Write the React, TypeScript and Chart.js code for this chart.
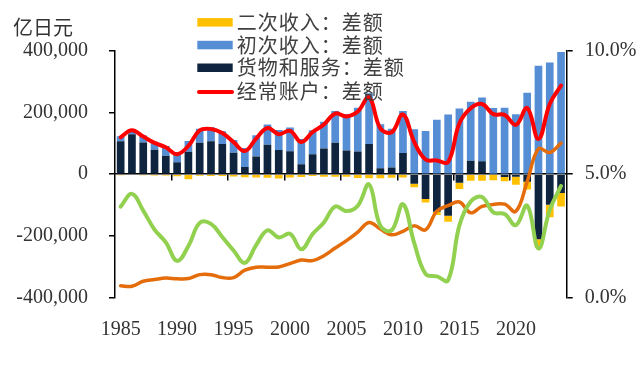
import React, { useEffect, useRef } from 'react';
import { Chart, registerables } from 'chart.js';

Chart.register(...registerables);

const years = [
  '1985', '1986', '1987', '1988', '1989', '1990', '1991', '1992', '1993', '1994',
  '1995', '1996', '1997', '1998', '1999', '2000', '2001', '2002', '2003', '2004',
  '2005', '2006', '2007', '2008', '2009', '2010', '2011', '2012', '2013', '2014',
  '2015', '2016', '2017', '2018', '2019', '2020', '2021', '2022', '2023', '2024',
];
const xLabelYears = ['1985', '1990', '1995', '2000', '2005', '2010', '2015', '2020'];

// 亿日元
const goodsServices = [
  106700, 129600, 102900, 79300, 59700, 38600, 72900, 102100, 107000, 98300,
  69500, 23200, 57700, 95300, 78700, 74300, 32100, 64700, 83600, 102000,
  76900, 73500, 98300, 18900, 21200, 68600, -31100, -80800, -122500, -135000,
  -28200, 43900, 42200, 1100, -9300, -8800, -24800, -211600, -99000, -61000,
];
const primaryIncome = [
  16100, 16000, 22500, 26300, 31800, 32900, 35000, 45100, 45300, 41300,
  41600, 61500, 68700, 66100, 65000, 76900, 82000, 78100, 86400, 103500,
  118500, 142300, 164800, 143400, 126300, 136200, 146200, 139900, 176900, 194100,
  213000, 191500, 206800, 214000, 215500, 194400, 264300, 351900, 363000, 397000,
];
const secondaryIncome = [
  -3200, -3100, -3600, -4200, -4400, -6800, -16200, -4800, -5700, -6200,
  -7300, -9800, -10700, -11500, -13900, -10600, -9600, -6000, -8700, -8500,
  -8200, -12400, -13600, -13500, -11600, -10900, -11100, -11400, -9900, -19900,
  -19700, -21500, -21300, -20000, -13700, -25700, -24800, -25700, -41000, -44000,
];
const currentAccount = [
  119700, 142400, 121900, 101500, 87100, 64700, 91800, 142300, 146700, 133400,
  103900, 74900, 115700, 150000, 129700, 140600, 104500, 136800, 161300, 196900,
  187300, 203300, 249500, 148800, 135900, 193800, 104000, 47600, 44600, 39200,
  165200, 213900, 227800, 195000, 192500, 159900, 214700, 114500, 228000, 288000,
];
// % (right axis)
const greenRatio = [
  3.68, 4.2, 3.52, 2.75, 2.23, 1.48, 2.08, 3.02, 2.98, 2.45,
  1.9, 1.4, 2.12, 2.72, 2.43, 2.58, 1.95, 2.57, 3.04, 3.69,
  3.5, 3.72, 4.58, 2.9, 2.72, 3.78, 2.2, 0.95, 0.85, 0.69,
  2.92, 3.89, 4.07, 3.45, 3.38, 2.93, 3.72, 1.98, 3.55, 4.52,
];
const orangeRatio = [
  0.47, 0.45, 0.65, 0.72, 0.78, 0.75, 0.76, 0.92, 0.92, 0.8,
  0.8, 1.1, 1.22, 1.22, 1.23, 1.37, 1.51, 1.49, 1.69, 2.0,
  2.3, 2.65, 3.04, 2.77, 2.54, 2.68, 2.9, 2.74, 3.5, 3.72,
  3.87, 3.43, 3.69, 3.77, 3.78, 3.49, 4.7, 6.03, 5.88, 6.26,
];

const leftTicks = [-400000, -200000, 0, 200000, 400000];
const rightTicks = [0, 5, 10];

const unitLabel = '亿日元';
const labelSecondary = '二次收入：差额';
const labelPrimary = '初次收入：差额';
const labelGoods = '货物和服务：差额';
const labelCurrent = '经常账户：差额';
const legendOrder = [labelSecondary, labelPrimary, labelGoods, labelCurrent];

const NUM_FONT = '"Liberation Serif", "Noto Sans CJK SC", serif';
const CJK_FONT = '"Noto Sans CJK SC", "Liberation Serif", sans-serif';
const TEXT_COLOR = '#333333';

const overlayPlugin = {
  id: 'overlay',
  afterDraw(chart: any) {
    const ctx = chart.ctx as CanvasRenderingContext2D;
    ctx.save();
    ctx.fillStyle = TEXT_COLOR;
    ctx.textBaseline = 'middle';
    ctx.textAlign = 'left';
    ctx.font = `20px ${CJK_FONT}`;
    ctx.fillText(unitLabel, 13, 27);

    const rows = [22.3, 45, 67.7, 91.5];
    ctx.font = `20px ${CJK_FONT}`;
    try { (ctx as any).letterSpacing = '1px'; } catch (e) {}
    legendOrder.forEach((lbl, i) => {
      const ds = chart.data.datasets.find((d: any) => d.label === lbl);
      if (!ds) return;
      const cy = rows[i];
      if (ds.type === 'line') {
        ctx.strokeStyle = ds.borderColor;
        ctx.lineWidth = 4;
        ctx.lineCap = 'round';
        ctx.beginPath();
        ctx.moveTo(199, cy + 0.5);
        ctx.lineTo(232, cy + 0.5);
        ctx.stroke();
      } else {
        ctx.fillStyle = ds.backgroundColor;
        ctx.fillRect(197.3, cy - 4.2, 35.4, 8.5);
      }
      ctx.fillStyle = '#404040';
      ctx.fillText(lbl, 236.7, cy);
    });
    ctx.restore();
  },
};

export default function App() {
  const ref = useRef<HTMLCanvasElement>(null);
  useEffect(() => {
    document.body.style.margin = '0';
    const tickFont = { family: NUM_FONT, size: 20 };
    const chart = new Chart(ref.current as HTMLCanvasElement, {
      type: 'bar',
      data: {
        labels: years,
        datasets: [
          {
            type: 'line',
            label: labelCurrent,
            data: currentAccount,
            yAxisID: 'y',
            stack: 'ca',
            borderColor: '#FF0000',
            backgroundColor: '#FF0000',
            borderWidth: 4,
            pointRadius: 0,
            tension: 0.4,
            fill: false,
            order: 0,
            borderCapStyle: 'round',
            borderJoinStyle: 'round',
          } as any,
          {
            type: 'line',
            label: 'greenRatio',
            data: greenRatio,
            yAxisID: 'y2',
            borderColor: '#92D050',
            backgroundColor: '#92D050',
            borderWidth: 4,
            pointRadius: 0,
            tension: 0.4,
            fill: false,
            order: 1,
            borderCapStyle: 'round',
            borderJoinStyle: 'round',
          } as any,
          {
            type: 'line',
            label: 'orangeRatio',
            data: orangeRatio,
            yAxisID: 'y2',
            borderColor: '#E46C0A',
            backgroundColor: '#E46C0A',
            borderWidth: 3.5,
            pointRadius: 0,
            tension: 0.4,
            fill: false,
            order: 2,
            borderCapStyle: 'round',
            borderJoinStyle: 'round',
          } as any,
          {
            type: 'bar',
            label: labelGoods,
            data: goodsServices,
            yAxisID: 'y',
            stack: 'bars',
            backgroundColor: '#0F243E',
            order: 3,
            barPercentage: 0.68,
            categoryPercentage: 1,
          },
          {
            type: 'bar',
            label: labelPrimary,
            data: primaryIncome,
            yAxisID: 'y',
            stack: 'bars',
            backgroundColor: '#558ED5',
            order: 4,
            barPercentage: 0.68,
            categoryPercentage: 1,
          },
          {
            type: 'bar',
            label: labelSecondary,
            data: secondaryIncome,
            yAxisID: 'y',
            stack: 'bars',
            backgroundColor: '#FFC000',
            order: 5,
            barPercentage: 0.68,
            categoryPercentage: 1,
          },
        ],
      },
      options: {
        animation: false,
        responsive: true,
        maintainAspectRatio: false,
        events: [],
        layout: { padding: { top: 51, left: 0, right: 0, bottom: 0 } },
        plugins: {
          legend: { display: false },
          title: { display: false },
          tooltip: { enabled: false },
        },
        scales: {
          x: {
            type: 'category',
            stacked: true,
            offset: true,
            position: 'bottom',
            grid: { display: false },
            border: { display: false },
            ticks: {
              autoSkip: false,
              maxRotation: 0,
              minRotation: 0,
              padding: 12,
              font: tickFont,
              color: TEXT_COLOR,
              callback: (_v: any, i: number) => (xLabelYears.includes(years[i]) ? years[i] : ''),
            },
            afterFit: (s: any) => { s.height = 385 - 297.3; },
          },
          x2: {
            type: 'category',
            position: { y: 0 },
            offset: true,
            grid: {
              drawOnChartArea: false,
              offset: true,
              tickLength: 6,
              lineWidth: 1.5,
              color: (c: any) => (c.index > 0 && c.index % 5 === 0 ? '#000000' : 'rgba(0,0,0,0)'),
            },
            border: { display: true, color: '#000000', width: 1.5 },
            ticks: { display: false, autoSkip: false },
          },
          y: {
            type: 'linear',
            position: 'left',
            stacked: true,
            min: -400000,
            max: 400000,
            afterBuildTicks: (s: any) => { s.ticks = leftTicks.map((v) => ({ value: v })); },
            ticks: {
              font: tickFont,
              color: TEXT_COLOR,
              padding: 21,
              callback: (v: any) => Number(v).toLocaleString('en-US'),
            },
            grid: { drawOnChartArea: false, tickLength: 6, color: '#000000', lineWidth: 1.5 },
            border: { display: true, color: '#000000', width: 1.5 },
            afterFit: (s: any) => { s.width = 115; },
          },
          y2: {
            type: 'linear',
            position: 'right',
            min: 0,
            max: 10,
            afterBuildTicks: (s: any) => { s.ticks = rightTicks.map((v) => ({ value: v })); },
            ticks: {
              font: tickFont,
              color: TEXT_COLOR,
              padding: 12,
              callback: (v: any) => Number(v).toFixed(1) + '%',
            },
            grid: { drawOnChartArea: false, tickLength: 6, color: '#000000', lineWidth: 1.5 },
            border: { display: true, color: '#000000', width: 1.5 },
            afterFit: (s: any) => { s.width = 640 - 566.7; },
          },
        },
      },
      plugins: [overlayPlugin],
    } as any);
    return () => chart.destroy();
  }, []);
  return (
    <div style={{ width: 640, height: 385, position: 'relative' }}>
      <canvas ref={ref} />
    </div>
  );
}
